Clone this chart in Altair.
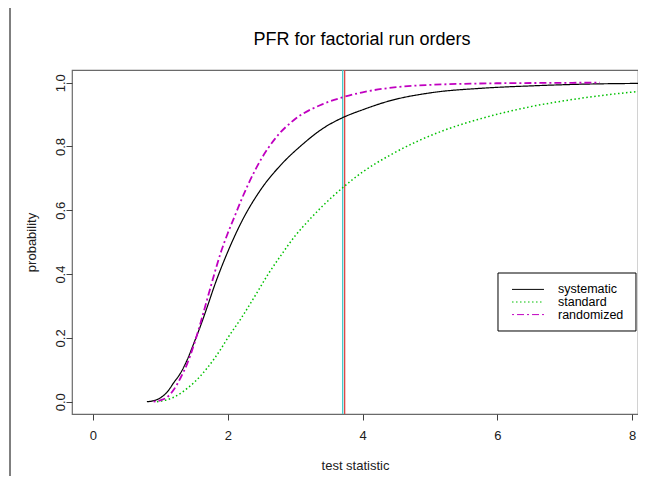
import altair as alt
import pandas as pd

# ---- data ----
sys_x = [0.80, 0.90, 1.00, 1.10, 1.20, 1.30, 1.40, 1.50, 1.60, 1.70, 1.80, 2.00, 2.20,
         2.50, 2.80, 3.10, 3.40, 3.70, 4.00, 4.40, 5.00, 5.80, 6.50, 7.20, 8.20]
sys_y = [0.000, 0.003, 0.012, 0.030, 0.060, 0.090, 0.132, 0.185, 0.240, 0.300, 0.362, 0.470, 0.562,
         0.668, 0.745, 0.805, 0.855, 0.890, 0.915, 0.943, 0.968, 0.983, 0.990, 0.995, 0.998]

std_x = [0.95, 1.10, 1.20, 1.30, 1.40, 1.50, 1.60, 1.70, 1.80, 1.90, 2.00, 2.20, 2.40, 2.60,
         2.80, 3.00, 3.20, 3.40, 3.70, 4.00, 4.40, 4.80, 5.20, 5.80, 6.50, 7.20, 8.20]
std_y = [0.000, 0.006, 0.014, 0.026, 0.042, 0.060, 0.082, 0.107, 0.135, 0.166, 0.200, 0.262, 0.330, 0.400,
         0.462, 0.520, 0.568, 0.612, 0.670, 0.720, 0.772, 0.815, 0.850, 0.890, 0.925, 0.950, 0.975]

rnd_x = [0.90, 1.00, 1.10, 1.20, 1.30, 1.40, 1.50, 1.60, 1.70, 1.80, 1.90, 2.00, 2.10, 2.20,
         2.30, 2.50, 2.70, 3.00, 3.40, 3.70, 4.00, 4.50, 5.00, 5.60, 6.50, 7.52]
rnd_y = [0.000, 0.004, 0.014, 0.038, 0.075, 0.120, 0.180, 0.250, 0.325, 0.400, 0.470, 0.528, 0.580, 0.632,
         0.680, 0.762, 0.824, 0.886, 0.932, 0.954, 0.970, 0.986, 0.993, 0.997, 0.999, 1.000]

series_names = ["systematic", "standard", "randomized"]
series_colors = ["#000000", "#00C000", "#C000C0"]
series_dash = [[1, 0], [1.5, 2.5], [2, 3, 7, 3]]
series_width = [1.2, 1.8, 2.0]

vline_x = [3.705, 3.734]
vline_color = ["#40C8C8", "#E04848"]

x_ticks = [0, 2, 4, 6, 8]
y_ticks = [0.0, 0.2, 0.4, 0.6, 0.8, 1.0]

# legend placement (data coordinates)
legend_box = {"x": 6.009, "x2": 8.056, "y": 0.4034, "y2": 0.2216}
legend_line_x = [6.217, 6.691]
legend_text_x = 6.899
legend_row_y = [0.352, 0.3125, 0.273]

FONT = "Liberation Sans"

# ---- tables ----
curves = pd.concat([
    pd.DataFrame({"x": sys_x, "y": sys_y, "series": "systematic"}),
    pd.DataFrame({"x": std_x, "y": std_y, "series": "standard"}),
    pd.DataFrame({"x": rnd_x, "y": rnd_y, "series": "randomized"}),
], ignore_index=True)

vlines = pd.DataFrame({"x": vline_x, "color": vline_color})
box_df = pd.DataFrame([legend_box])
leg_df = pd.DataFrame({
    "series": series_names,
    "x": [legend_line_x[0]] * 3,
    "x2": [legend_line_x[1]] * 3,
    "tx": [legend_text_x] * 3,
    "y": legend_row_y,
})

xscale = alt.Scale(domain=[-0.311, 8.086], nice=False, zero=False)
yscale = alt.Scale(domain=[-0.0386, 1.0398], nice=False, zero=False)

xaxis = alt.Axis(values=x_ticks, format="d", title="test statistic",
                 titleY=51, titleBaseline="middle", labelPadding=9,
                 labelBaseline="top")
yaxis = alt.Axis(values=y_ticks, format=".1f", title="probability",
                 labelAngle=270, labelAlign="center", labelBaseline="alphabetic",
                 labelPadding=2, titleX=-41, titleY=172, titleAngle=270,
                 titleBaseline="middle", titleAlign="center")


def X(f):
    return alt.X(f, type="quantitative", scale=xscale, axis=xaxis)


def Y(f):
    return alt.Y(f, type="quantitative", scale=yscale, axis=yaxis)


color_s = alt.Color("series:N", scale=alt.Scale(domain=series_names, range=series_colors), legend=None)
dash_s = alt.StrokeDash("series:N", scale=alt.Scale(domain=series_names, range=series_dash), legend=None)

lines = alt.Chart(curves).mark_line(clip=True, interpolate="monotone").encode(
    x=X("x"), y=Y("y"), color=color_s, strokeDash=dash_s,
    strokeWidth=alt.StrokeWidth("series:N", scale=alt.Scale(domain=series_names, range=series_width), legend=None),
    order=alt.Order("x:Q"),
)

rules = alt.Chart(vlines).mark_rule(strokeWidth=1.3).encode(
    x=X("x"), color=alt.Color("color:N", scale=None)
)

box = alt.Chart(box_df).mark_rect(fill="white", stroke="black", strokeWidth=1).encode(
    x=X("x"), x2="x2:Q", y=Y("y"), y2="y2:Q"
)

leg_lines = alt.Chart(leg_df).mark_rule(strokeWidth=1).encode(
    x=X("x"), x2="x2:Q", y=Y("y"), color=color_s, strokeDash=dash_s
)

leg_text = alt.Chart(leg_df).mark_text(align="left", baseline="middle", fontSize=12.5, font=FONT,
                                       color="black").encode(
    x=X("tx"), y=Y("y"), text="series:N"
)

# page border line at the far left of the picture
border = alt.Chart(pd.DataFrame({"a": [0]})).mark_rule(color="black", strokeWidth=1).encode(
    x=alt.value(-62), y=alt.value(-63), y2=alt.value(406)
)

chart = alt.layer(rules, lines, box, leg_lines, leg_text, border).properties(
    width=566, height=344,
    autosize=alt.AutoSizeParams(type="none"),
    padding={"left": 64, "top": 62, "right": 0, "bottom": 62},
    title=alt.TitleParams("PFR for factorial run orders", font=FONT, fontSize=18,
                          fontWeight="normal", anchor="middle", dx=7, frame="group",
                          baseline="alphabetic", offset=-56, color="black"),
).configure_view(
    stroke="#6a6a6a", strokeWidth=1.2
).configure_axis(
    domain=False, grid=False, tickColor="#404040", tickSize=6, tickWidth=1,
    labelFont=FONT, labelFontSize=13, labelColor="#202020",
    titleFont=FONT, titleFontSize=13, titleFontWeight="normal", titleColor="#202020",
)

chart.save("out.html", embed_options={"renderer": "svg", "actions": False})
